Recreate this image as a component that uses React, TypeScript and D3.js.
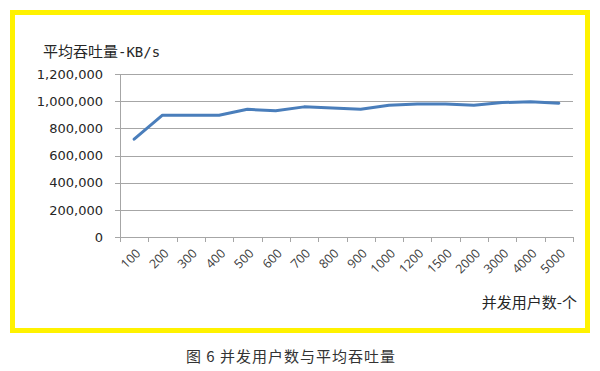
import { useEffect, useRef } from 'react';
import * as d3 from 'd3';

const categories = [
  '100', '200', '300', '400', '500', '600', '700', '800',
  '900', '1000', '1200', '1500', '2000', '3000', '4000', '5000',
];
const throughput = [
  720000, 897000, 897000, 897000, 940000, 930000, 958000, 950000,
  940000, 970000, 980000, 980000, 970000, 990000, 995000, 985000,
];
const yTicks = [0, 200000, 400000, 600000, 800000, 1000000, 1200000];

const W = 600;
const H = 371;

const App = () => {
  const svgRef = useRef<SVGSVGElement>(null);

  useEffect(() => {
    if (!svgRef.current) return;
    const svg = d3.select(svgRef.current);
    svg.selectAll('*').remove();

    const left = 120;
    const right = 573;
    const top = 74;
    const bottom = 237;

    svg.append('rect').attr('width', W).attr('height', H).attr('fill', '#fff');

    // yellow frame
    svg
      .append('rect')
      .attr('x', 12.5)
      .attr('y', 12.5)
      .attr('width', 575)
      .attr('height', 318)
      .attr('fill', 'none')
      .attr('stroke', '#fff200')
      .attr('stroke-width', 5);

    const x = d3.scaleBand<string>().domain(categories).range([left, right]);
    const y = d3.scaleLinear().domain([0, 1200000]).range([bottom, top]);

    // gridlines + y ticks
    svg
      .append('g')
      .selectAll('line')
      .data(yTicks)
      .enter()
      .append('line')
      .attr('x1', left - 5)
      .attr('x2', right)
      .attr('y1', (d) => Math.round(y(d)) + 0.5)
      .attr('y2', (d) => Math.round(y(d)) + 0.5)
      .attr('stroke', '#a6a6a6')
      .attr('stroke-width', 1);

    svg
      .append('g')
      .selectAll('text')
      .data(yTicks)
      .enter()
      .append('text')
      .attr('x', left - 17)
      .attr('y', (d) => y(d))
      .attr('dy', '0.36em')
      .attr('text-anchor', 'end')
      .attr('font-family', 'DejaVu Sans')
      .attr('font-size', 13)
      .attr('fill', '#262626')
      .text((d) => d3.format(',')(d));

    // y axis line
    svg
      .append('line')
      .attr('x1', left + 0.5)
      .attr('x2', left + 0.5)
      .attr('y1', top)
      .attr('y2', bottom)
      .attr('stroke', '#a6a6a6');

    // x ticks at band edges
    const edges = categories.map((c) => x(c) ?? 0).concat([right]);
    svg
      .append('g')
      .selectAll('line')
      .data(edges)
      .enter()
      .append('line')
      .attr('x1', (d) => Math.round(d) + 0.5)
      .attr('x2', (d) => Math.round(d) + 0.5)
      .attr('y1', bottom)
      .attr('y2', bottom + 5)
      .attr('stroke', '#a6a6a6');

    svg
      .append('g')
      .selectAll('text')
      .data(categories)
      .enter()
      .append('text')
      .attr(
        'transform',
        (d) => `translate(${(x(d) ?? 0) + x.bandwidth() / 2 + 4},${bottom + 14}) rotate(-45)`,
      )
      .attr('dy', '0.35em')
      .attr('text-anchor', 'end')
      .attr('font-family', 'Open Sans')
      .attr('font-size', 12.5)
      .attr('fill', '#404040')
      .text((d) => d);

    // line
    const line = d3
      .line<number>()
      .x((_, i) => (x(categories[i]) ?? 0) + x.bandwidth() / 2)
      .y((d) => y(d))
      .curve(d3.curveLinear);

    svg
      .append('path')
      .datum(throughput)
      .attr('d', line)
      .attr('fill', 'none')
      .attr('stroke', '#4a7ebb')
      .attr('stroke-width', 3)
      .attr('stroke-linejoin', 'round')
      .attr('stroke-linecap', 'round');

    // titles
    const yTitle = svg
      .append('text')
      .attr('x', 43)
      .attr('y', 57)
      .attr('font-size', 15)
      .attr('fill', '#262626');
    yTitle.append('tspan').attr('font-family', 'Noto Sans CJK SC').text('平均吞吐量');
    yTitle.append('tspan').attr('font-family', 'DejaVu Sans Mono').attr('font-size', 14).text('-KB/s');

    svg
      .append('text')
      .attr('x', 577)
      .attr('y', 308)
      .attr('text-anchor', 'end')
      .attr('font-family', 'Noto Sans CJK SC')
      .attr('font-size', 15)
      .attr('fill', '#262626')
      .text('并发用户数-个');

    svg
      .append('text')
      .attr('x', 291)
      .attr('y', 362)
      .attr('text-anchor', 'middle')
      .attr('font-family', 'Noto Sans CJK SC')
      .attr('font-size', 15)
      .attr('letter-spacing', 1)
      .attr('fill', '#333')
      .text('图 6  并发用户数与平均吞吐量');
  }, []);

  return (
    <svg
      ref={svgRef}
      width={W}
      height={H}
      style={{ position: 'absolute', left: 0, top: 0 }}
    />
  );
};

export default App;
